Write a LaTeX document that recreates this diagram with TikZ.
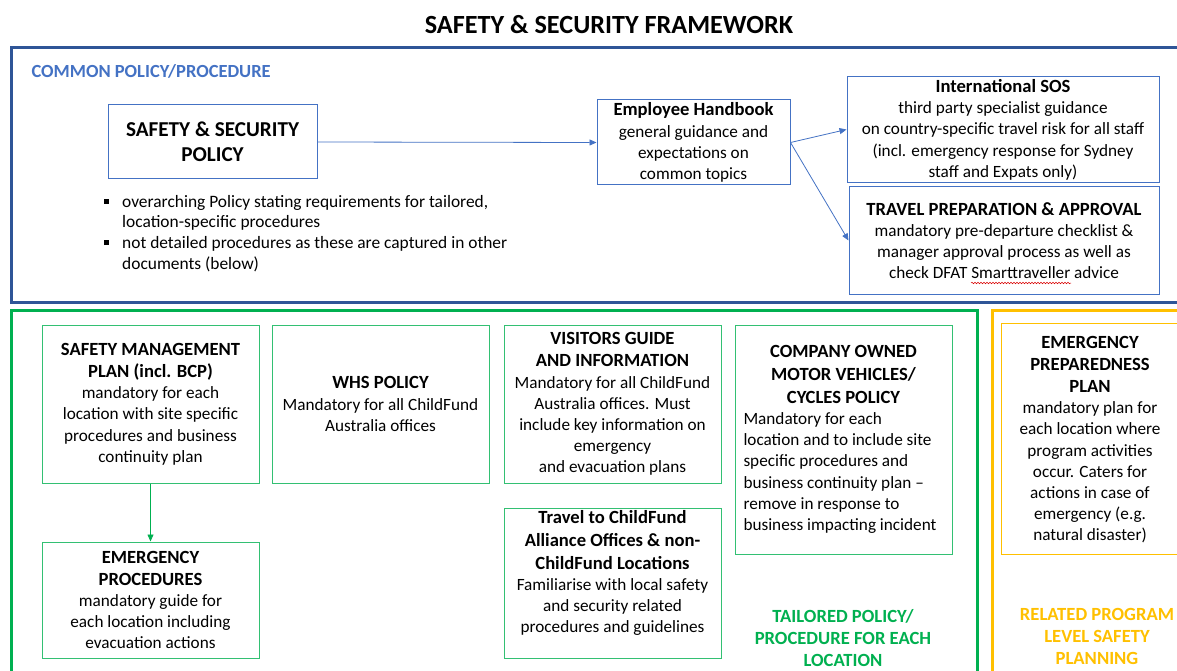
\documentclass[tikz,border=0pt]{standalone}
\usepackage{fontspec}
\setmainfont{Carlito}
\usetikzlibrary{arrows.meta,decorations.pathmorphing}
\definecolor{frameblue}{HTML}{2F5597}
\definecolor{lineblue}{HTML}{4472C4}
\definecolor{fgreen}{HTML}{00B050}
\definecolor{fyellow}{HTML}{FFC000}
% bold heading line inside a box
\newcommand{\hd}[1]{{\fontsize{18.6}{22}\selectfont\bfseries #1}}
\tikzset{
  frame/.style={line width=3pt},
  bluebox/.style={draw=lineblue, line width=1pt, align=center, inner sep=2pt,
    font=\fontsize{17.2}{21.2}\selectfont},
  greenbox/.style={draw=fgreen!80, line width=1pt, align=center, inner sep=2pt,
    font=\fontsize{17.2}{21.2}\selectfont},
  yellowbox/.style={draw=fyellow, line width=0.8pt},
  bluearrow/.style={draw=lineblue, line width=0.8pt, -{Triangle[length=7pt,width=6pt]}},
  greenarrow/.style={draw=fgreen, line width=0.8pt, -{Triangle[length=7pt,width=6pt]}},
  sectionlabel/.style={font=\fontsize{18.6}{22}\selectfont\bfseries, align=center}
}
\begin{document}
\begin{tikzpicture}[x=1pt,y=-1pt]
\useasboundingbox (0,0) rectangle (1177,671);
\clip (0,0) rectangle (1177,671);
\fill[white] (0,0) rectangle (1177,671);

% heading
\node[font=\fontsize{26.2}{30}\selectfont\bfseries] (title) at (609,25) {SAFETY \& SECURITY FRAMEWORK};

% section frames
\draw[frame, frameblue] (11,48) rectangle (1195,302);
\draw[frame, fgreen] (11,310) rectangle (977,690);
\draw[frame, fyellow] (992,310) rectangle (1195,690);

% common policy / procedure
\node[anchor=west, text=lineblue, font=\fontsize{18.5}{22}\selectfont\bfseries] (common) at (28,71) {COMMON POLICY/PROCEDURE};

\node[bluebox, minimum width=209pt, minimum height=74pt, font=\fontsize{21.2}{25}\selectfont\bfseries] (policy) at (212.5,142)
  {SAFETY \& SECURITY\\POLICY};

\node[anchor=north west, align=left, inner sep=0pt, font=\fontsize{17.4}{20.7}\selectfont] (bullets) at (104,195)
  {\makebox[18pt][l]{\rule[3.5pt]{5pt}{5pt}}overarching Policy stating requirements for tailored,\\
   \hspace*{18pt}location-specific procedures\\
   \makebox[18pt][l]{\rule[3.5pt]{5pt}{5pt}}not detailed procedures as these are captured in other\\
   \hspace*{18pt}documents (below)};

\node[bluebox, minimum width=193pt, minimum height=85pt] (eh) at (693.5,142.5)
  {\hd{Employee Handbook}\\general guidance and\\expectations on\\common topics};

\node[bluebox, minimum width=312pt, minimum height=104pt] (sos) at (1003,129.5)
  {\hd{International SOS}\\[0.5pt]third party specialist guidance\\on country-specific travel risk for all staff\\(incl. emergency response for Sydney\\staff and Expats only)};

\node[bluebox, minimum width=310pt, minimum height=107pt] (tpa) at (1004,240.5)
  {\hd{TRAVEL PREPARATION \& APPROVAL}\\mandatory pre-departure checklist \&\\manager approval process as well as\\check DFAT Smarttraveller advice};
\draw[red!85!black, line width=0.5pt, decorate,
  decoration={snake, amplitude=0.8pt, segment length=3pt}] (971,283) -- (1071,283);

\draw[bluearrow] (policy.east) -- (eh.west);
\draw[bluearrow] (eh.east) -- (sos.west);
\draw[bluearrow] (eh.east) -- (tpa.west);

% tailored policy / procedure for each location
\node[greenbox, minimum width=217pt, minimum height=158pt] (smp) at (150.5,404)
  {\hd{SAFETY MANAGEMENT}\\[1pt]\hd{PLAN (incl. BCP)}\\mandatory for each\\location with site specific\\procedures and business\\continuity plan};

\node[greenbox, minimum width=217pt, minimum height=158pt] (whs) at (380.5,404)
  {\hd{WHS POLICY}\\Mandatory for all ChildFund\\Australia offices};

\node[greenbox, minimum width=217pt, minimum height=158pt] (vis) at (612.5,404)
  {\hd{VISITORS GUIDE}\\[1pt]\hd{AND INFORMATION}\\Mandatory for all ChildFund\\Australia offices. Must\\include key information on\\emergency\\and evacuation plans};

\node[greenbox, minimum width=217pt, minimum height=229pt] (cov) at (843.5,439.5)
  {\begin{minipage}{200pt}
   \fontsize{17.2}{21.2}\selectfont
   {\centering\fontsize{18.6}{22.8}\selectfont\bfseries COMPANY OWNED\\MOTOR VEHICLES/\\CYCLES POLICY\par}
   \raggedright Mandatory for each\\location and to include site\\specific procedures and\\business continuity plan --\\remove in response to\\business impacting incident\par
   \end{minipage}};

\node[greenbox, minimum width=217pt, minimum height=116pt] (ep) at (150.5,600)
  {\hd{EMERGENCY}\\[1pt]\hd{PROCEDURES}\\mandatory guide for\\each location including\\evacuation actions};

\node[greenbox, minimum width=217pt, minimum height=149pt] (tcf) at (612.5,583.5)
  {\hd{Travel to ChildFund}\\[1.5pt]\hd{Alliance Offices \& non-}\\[1.5pt]\hd{ChildFund Locations}\\Familiarise with local safety\\and security related\\procedures and guidelines\\[2pt]};

\draw[greenarrow] (smp.south) -- (ep.north);

\node[sectionlabel, text=fgreen] (tailored) at (843,638)
  {TAILORED POLICY/\\PROCEDURE FOR EACH\\LOCATION};

% related program level safety planning
\node[yellowbox, minimum width=194pt, minimum height=231pt] (eppbox) at (1098,438.5) {};
\node[align=center, font=\fontsize{17.2}{21.2}\selectfont] (epp) at (1090,439.5)
  {\hd{EMERGENCY}\\[1pt]\hd{PREPAREDNESS}\\[1pt]\hd{PLAN}\\mandatory plan for\\each location where\\program activities\\occur. Caters for\\actions in case of\\emergency (e.g.\\natural disaster)};

\node[sectionlabel, text=fyellow] (related) at (1097,636)
  {RELATED PROGRAM\\LEVEL SAFETY\\PLANNING};
\end{tikzpicture}
\end{document}
